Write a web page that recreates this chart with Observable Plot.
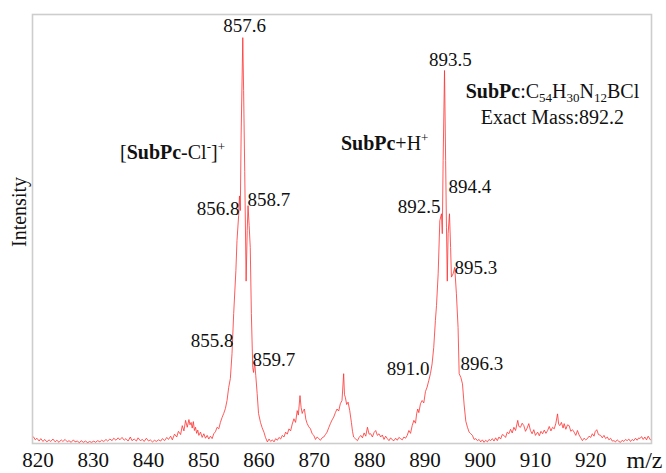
<!DOCTYPE html>
<html>
<head>
<meta charset="utf-8">
<script src="https://cdn.jsdelivr.net/npm/d3@7"></script>
<script src="https://cdn.jsdelivr.net/npm/@observablehq/plot@0.6"></script>
<style>
  html, body { margin: 0; padding: 0; background: #fff; }
  svg text { font-family: "Liberation Serif", "Times New Roman", serif; }
</style>
</head>
<body>
<div id="chart"></div>
<script>
// ---- data ----
// [m/z, relative intensity]
const spectrum = [
  [819.2,1.6],[819.5,0.9],[819.8,1.3],[820.2,0.6],[820.5,1.2],[820.9,0.5],[821.2,1.0],[821.6,0.4],[822.0,0.9],[822.3,0.5],
  [822.7,1.1],[823.1,0.4],[823.4,0.8],[823.8,0.3],[824.2,0.9],[824.5,0.5],[824.9,1.0],[825.3,0.4],[825.6,0.7],[826.0,0.3],
  [826.4,0.9],[826.7,0.4],[827.1,0.6],[827.5,0.2],[827.8,0.7],[828.2,0.3],[828.6,0.6],[829.0,0.2],[829.3,0.5],[829.7,0.3],
  [830.1,0.6],[830.4,0.3],[830.8,0.7],[831.2,0.4],[831.5,0.8],[831.9,0.5],[832.3,1.0],[832.6,0.6],[833.0,1.1],[833.4,0.7],
  [833.7,1.3],[834.1,0.8],[834.5,1.4],[834.8,0.9],[835.2,1.5],[835.6,0.8],[835.9,1.2],[836.3,0.6],[836.7,1.6],[837.0,0.7],
  [837.4,1.1],[837.8,0.6],[838.1,1.4],[838.5,0.7],[838.9,1.0],[839.2,0.5],[839.6,1.3],[840.0,0.6],[840.3,0.9],[840.7,0.4],
  [841.1,0.8],[841.4,0.5],[841.8,0.9],[842.2,0.6],[842.5,1.2],[842.9,0.7],[843.3,1.5],[843.6,1.0],[844.0,1.8],[844.3,0.9],
  [844.7,2.3],[845.1,1.6],[845.4,3.0],[845.8,2.2],[846.1,4.4],[846.4,3.1],[846.7,5.7],[847.0,4.0],[847.3,5.9],[847.5,4.6],
  [847.7,5.2],[847.9,3.8],[848.1,5.4],[848.3,3.2],[848.5,4.0],[848.7,2.5],[848.9,3.3],[849.1,2.0],[849.4,2.8],[849.7,1.5],
  [850.0,2.4],[850.3,1.3],[850.6,2.0],[850.9,1.1],[851.2,1.8],[851.5,1.2],[851.8,2.4],[852.1,2.9],[852.4,4.0],[852.7,3.6],
  [853.0,5.2],[853.3,6.4],[853.6,7.4],[853.9,8.6],[854.2,10.6],[854.5,13.8],[854.8,16.0],[855.1,22.2],[855.4,32.0],[855.8,42.6],
  [856.0,50.0],[856.3,56.2],[856.45,61.0],[856.6,57.4],[856.75,76.0],[857.05,100.0],[857.2,87.0],[857.4,67.0],[857.65,40.0],[857.85,52.5],
  [858.0,58.6],[858.2,53.7],[858.4,48.3],[858.6,32.0],[858.85,18.7],[859.0,17.5],[859.2,20.0],[859.4,16.7],[859.65,12.3],[859.9,7.4],
  [860.25,5.2],[860.55,3.9],[860.9,2.7],[861.15,1.5],[861.5,0.4],[861.8,1.1],[862.1,0.5],[862.4,0.9],[862.7,0.4],[863.0,1.2],
  [863.3,0.8],[863.6,1.5],[863.9,1.1],[864.2,2.0],[864.5,1.6],[864.8,2.8],[865.1,2.3],[865.4,3.6],[865.7,3.1],[866.0,4.8],
  [866.3,6.1],[866.6,5.2],[866.9,8.1],[867.1,7.0],[867.4,11.8],[867.6,8.9],[867.8,7.4],[868.0,8.1],[868.2,8.5],[868.45,6.0],
  [868.7,4.9],[869.0,4.1],[869.3,3.6],[869.6,2.4],[869.9,2.0],[870.2,1.0],[870.5,1.6],[870.8,1.2],[871.1,0.8],[871.4,1.4],
  [871.7,1.6],[872.0,2.2],[872.3,2.8],[872.6,3.9],[872.9,4.9],[873.2,5.8],[873.5,6.5],[873.8,7.6],[874.1,8.5],[874.4,8.0],
  [874.7,9.8],[875.0,10.6],[875.3,17.2],[875.45,12.0],[875.6,11.4],[875.85,9.6],[876.1,10.2],[876.4,8.1],[876.7,5.2],[876.9,3.0],
  [877.1,1.6],[877.4,1.2],[877.8,0.7],[878.1,1.5],[878.4,2.0],[878.7,1.4],[879.0,2.6],[879.3,1.8],[879.6,4.0],[879.9,2.3],
  [880.2,2.4],[880.5,1.6],[880.8,2.7],[881.1,3.2],[881.4,2.0],[881.7,2.4],[882.0,1.6],[882.3,2.1],[882.6,1.0],[882.9,1.8],
  [883.2,1.2],[883.5,0.7],[883.8,1.4],[884.1,0.9],[884.4,0.7],[884.7,1.3],[885.0,0.8],[885.3,1.5],[885.6,1.2],[885.9,0.9],
  [886.2,1.6],[886.5,1.3],[886.8,2.0],[887.1,3.2],[887.4,2.5],[887.7,4.4],[888.0,5.7],[888.3,5.0],[888.5,7.3],[888.7,8.5],
  [888.9,7.6],[889.2,9.8],[889.5,10.6],[889.8,10.0],[890.1,12.8],[890.4,13.9],[890.7,15.5],[891.0,17.2],[891.3,19.6],[891.6,23.7],
  [891.9,30.3],[892.1,34.0],[892.4,41.8],[892.7,54.9],[893.0,56.6],[893.15,51.7],[893.3,69.7],[893.55,91.9],[893.75,69.7],[893.9,53.3],
  [894.05,40.0],[894.2,51.7],[894.45,56.6],[894.65,48.3],[894.8,41.0],[895.1,41.8],[895.4,43.4],[895.7,36.9],[896.0,28.6],[896.2,17.2],
  [896.5,16.3],[896.8,14.7],[897.1,9.5],[897.4,5.5],[897.7,4.0],[898.0,2.8],[898.3,2.4],[898.6,2.0],[898.9,1.0],[899.2,1.2],
  [899.5,0.7],[899.8,1.0],[900.1,0.4],[900.4,0.9],[900.7,0.3],[901.0,0.8],[901.3,0.4],[901.6,1.0],[901.9,0.7],[902.2,1.2],
  [902.5,0.6],[902.8,1.4],[903.1,0.7],[903.4,1.6],[903.7,1.1],[904.0,2.2],[904.3,2.0],[904.6,1.5],[904.9,2.8],[905.2,2.4],
  [905.5,3.5],[905.8,2.6],[906.1,4.0],[906.4,3.2],[906.8,5.7],[907.0,4.2],[907.3,4.0],[907.6,5.0],[907.9,4.4],[908.2,3.0],
  [908.5,3.8],[908.8,4.9],[909.1,3.2],[909.4,2.4],[909.7,3.4],[910.0,2.0],[910.4,2.8],[910.7,1.9],[911.0,3.0],[911.3,2.4],
  [911.6,3.3],[911.9,2.5],[912.2,3.2],[912.5,4.2],[912.8,3.1],[913.1,4.0],[913.4,3.6],[913.7,5.0],[914.0,7.3],[914.2,4.8],
  [914.4,4.4],[914.7,5.2],[915.0,3.8],[915.2,4.9],[915.5,3.5],[915.8,4.6],[916.1,4.4],[916.4,3.0],[916.7,3.4],[917.0,2.8],
  [917.3,2.0],[917.6,3.2],[917.9,2.1],[918.2,1.4],[918.5,0.7],[918.8,1.3],[919.1,0.9],[919.4,1.2],[919.7,1.8],[920.0,1.5],
  [920.3,2.4],[920.6,1.8],[920.8,2.9],[921.1,3.4],[921.4,2.2],[921.8,2.0],[922.1,1.4],[922.4,2.0],[922.7,1.2],[923.0,1.6],
  [923.3,0.9],[923.6,1.3],[923.9,0.6],[924.2,0.7],[924.5,0.4],[924.8,0.9],[925.1,0.5],[925.4,0.3],[925.7,0.8],[926.0,0.5],
  [926.3,1.0],[926.6,0.7],[926.9,1.1],[927.2,0.5],[927.5,1.0],[927.8,0.7],[928.1,1.3],[928.4,0.8],[928.7,1.4],[928.9,1.2],
  [929.2,1.7],[929.5,1.0],[929.8,1.6],[930.1,0.9],[930.4,1.8],[930.8,0.9]
];

const xTicks = [820, 830, 840, 850, 860, 870, 880, 890, 900, 910, 920];

// peak labels: text, anchor m/z, anchor intensity (baseline of label)
const peakLabelsCenter = [
  {text: "857.6", mz: 857.36, y: 101.3},
  {text: "893.5", mz: 894.63, y: 93.1}
];
const peakLabelsLeft = [   // text ends at anchor
  {text: "856.8", mz: 856.45, y: 56.2},
  {text: "855.8", mz: 855.37, y: 23.7},
  {text: "892.5", mz: 892.82, y: 56.9},
  {text: "891.0", mz: 890.83, y: 17.0}
];
const peakLabelsRight = [  // text starts at anchor
  {text: "858.7", mz: 857.90, y: 58.6},
  {text: "859.7", mz: 858.80, y: 19.2},
  {text: "894.4", mz: 894.27, y: 61.8},
  {text: "895.3", mz: 895.35, y: 41.8},
  {text: "896.3", mz: 896.44, y: 18.2}
];

// species annotations (segments: [text, style])
const species = [
  {mz: 844.33, y: 70.2, segs: [["[",""],["SubPc","b"],["-Cl",""],["-","sup"],["]",""],["+","sup"]]},
  {mz: 882.72, y: 72.4, segs: [["SubPc","b"],["+H",""],["+","sup"]]},
  {mz: 913.08, y: 85.2, segs: [["SubPc","b"],[":C",""],["54","sub"],["H",""],["30","sub"],["N",""],["12","sub"],["BCl",""]]},
  {mz: 913.08, y: 78.6, segs: [["Exact Mass:892.2",""]]}
];

const xLabel = "m/z";
const yLabel = "Intensity";

// ---- chart ----
const FONT = "Liberation Serif";
const rows = spectrum.map(([mz, v]) => ({mz, v}));
const plain = s => s.segs.map(d => d[0]).join("");

const chart = Plot.plot({
  width: 666,
  height: 473,
  marginLeft: 32,
  marginRight: 15,
  marginTop: 14,
  marginBottom: 30,
  style: {fontFamily: FONT, fontSize: "20px", background: "#fff", color: "#111", overflow: "visible"},
  x: {domain: [819, 931]},
  y: {domain: [0, 105.7], axis: null},
  marks: [
    Plot.frame({stroke: "#cdcdcd", strokeWidth: 1.6}),
    Plot.line(rows, {x: "mz", y: "v", stroke: "#ff3030", strokeWidth: 0.8, curve: "linear"}),
    Plot.axisX({ticks: xTicks, tickSize: 0, tickPadding: 9, fontSize: 21, fontFamily: FONT, label: null, tickFormat: d => String(d)}),
    Plot.text([xLabel], {frameAnchor: "bottom-right", text: d => d, textAnchor: "middle", lineAnchor: "bottom", dx: -7, dy: 24, fontSize: 24, fontFamily: FONT}),
    Plot.text([yLabel], {frameAnchor: "left", text: d => d, rotate: -90, textAnchor: "middle", lineAnchor: "middle", dx: -13, dy: -17, fontSize: 20, fontFamily: FONT}),
    Plot.text(peakLabelsCenter, {x: "mz", y: "y", text: "text", textAnchor: "middle", lineAnchor: "bottom", fontSize: 19, fontFamily: FONT}),
    Plot.text(peakLabelsLeft, {x: "mz", y: "y", text: "text", textAnchor: "end", lineAnchor: "bottom", fontSize: 19, fontFamily: FONT}),
    Plot.text(peakLabelsRight, {x: "mz", y: "y", text: "text", textAnchor: "start", lineAnchor: "bottom", fontSize: 19, fontFamily: FONT}),
    Plot.text(species, {x: "mz", y: "y", text: plain, textAnchor: "middle", lineAnchor: "bottom", fontSize: 20, fontFamily: FONT})
  ]
});

// rich text (bold, sub/superscripts) for species labels
const SVGNS = "http://www.w3.org/2000/svg";
const allTexts = Array.from(chart.querySelectorAll("text"));
species.forEach(sp => {
  const target = plain(sp);
  const t = allTexts.find(el => el.textContent === target && !el.dataset.done);
  if (!t) return;
  t.dataset.done = "1";
  while (t.firstChild) t.removeChild(t.firstChild);
  let shift = 0;
  for (const [s, style] of sp.segs) {
    const ts = document.createElementNS(SVGNS, "tspan");
    let want = 0;
    if (style === "sup") { want = -8; ts.setAttribute("font-size", "13"); }
    else if (style === "sub") { want = 4; ts.setAttribute("font-size", "13"); }
    else if (style === "b") { ts.setAttribute("font-weight", "bold"); }
    const dy = want - shift;
    shift = want;
    if (dy) ts.setAttribute("dy", dy);
    ts.textContent = s;
    t.appendChild(ts);
  }
});
allTexts.forEach(el => el.setAttribute("font-family", FONT));

document.getElementById("chart").appendChild(chart);
</script>
</body>
</html>
